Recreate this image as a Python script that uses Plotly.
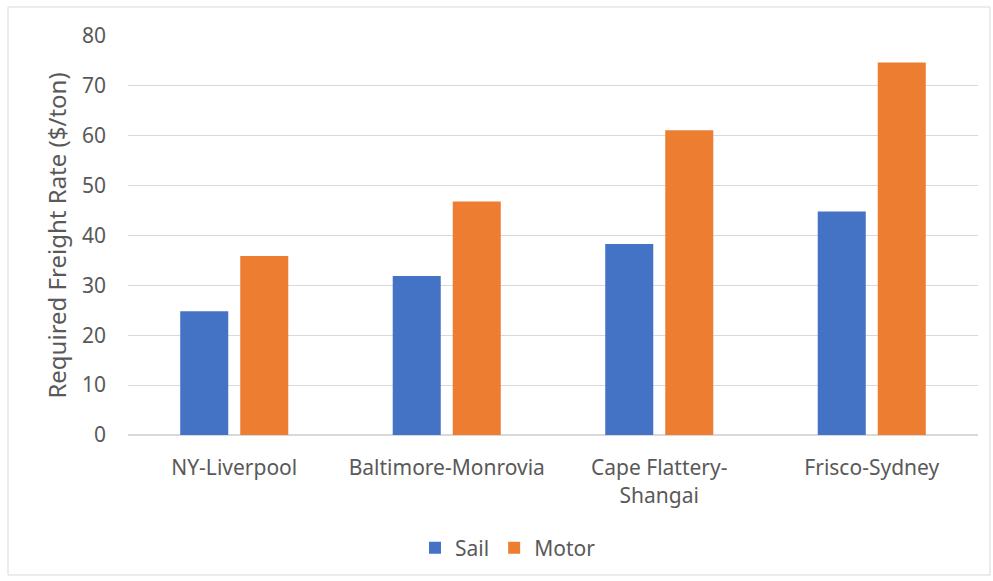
import plotly.graph_objects as go

routes = ["NY-Liverpool", "Baltimore-Monrovia", "Cape Flattery-<br>Shangai", "Frisco-Sydney"]
sail = [24.8, 31.9, 38.3, 44.8]
motor = [35.9, 46.8, 61.1, 74.7]

W, H = 993, 581
L, R, T, B = 128, 15, 36, 146
plot_w = W - L - R
plot_h = H - T - B

text_color = "#595959"
font_family = "Noto Sans, Open Sans, sans-serif"

fig = go.Figure()
fig.add_trace(go.Bar(name="Sail", x=routes, y=sail, marker=dict(color="#4472C4", line=dict(width=0))))
fig.add_trace(go.Bar(name="Motor", x=routes, y=motor, marker=dict(color="#ED7D31", line=dict(width=0))))

# outer chart border
fig.add_shape(
    type="rect", xref="paper", yref="paper",
    x0=(8 - L) / plot_w, x1=(990 - L) / plot_w,
    y0=(H - B - 575) / plot_h, y1=(H - B - 7) / plot_h,
    line=dict(color="#d9d9d9", width=1), fillcolor="rgba(0,0,0,0)", layer="below",
)

fig.update_layout(
    width=W, height=H,
    margin=dict(l=L, r=R, t=T, b=B),
    paper_bgcolor="white", plot_bgcolor="white",
    barmode="group", bargap=0.435, bargroupgap=0.2,
    font=dict(family=font_family, size=21, color=text_color),
    showlegend=True,
    legend=dict(
        orientation="h", x=(508 - L) / plot_w, xanchor="center",
        y=(H - B - 548) / plot_h, yanchor="middle",
        font=dict(size=21, color=text_color), itemwidth=30,
    ),
    xaxis=dict(
        showgrid=False, showline=True, linecolor="#d9d9d9", linewidth=1,
        ticks="", tickfont=dict(size=21, color=text_color), ticklabelstandoff=14,
    ),
    yaxis=dict(
        range=[0, 80], dtick=10, showgrid=True, gridcolor="#d9d9d9", gridwidth=1,
        zeroline=True, zerolinecolor="#d9d9d9", showline=False,
        tickfont=dict(size=21, color=text_color), ticklabelstandoff=21,
        title=dict(text="Required Freight Rate ($/ton)", font=dict(size=24, color=text_color), standoff=8),
    ),
)

fig.write_html("out.html")
